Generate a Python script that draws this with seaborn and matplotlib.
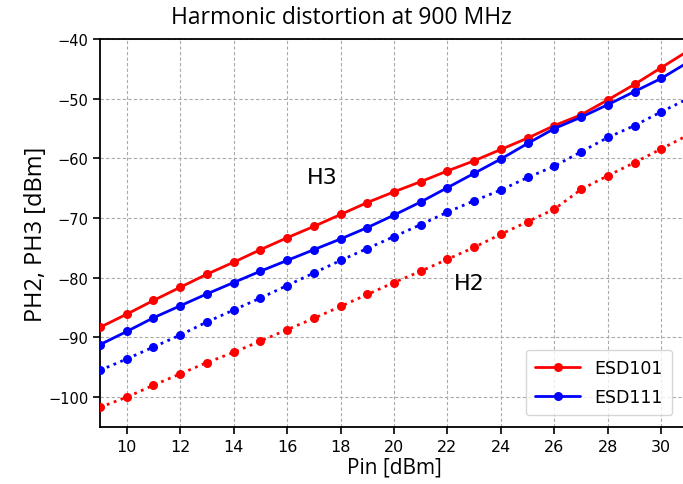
import matplotlib
matplotlib.use("Agg")
import matplotlib.pyplot as plt
import seaborn as sns
import pandas as pd

pin_dbm = list(range(9, 32))

h3_esd101 = [-88.3, -86.1, -83.8, -81.6, -79.4, -77.4, -75.3, -73.3, -71.4, -69.4,
             -67.4, -65.6, -63.9, -62.1, -60.4, -58.5, -56.6, -54.5, -52.7, -50.2,
             -47.6, -44.8, -42.0]
h3_esd111 = [-91.2, -89.0, -86.7, -84.7, -82.7, -80.8, -78.9, -77.1, -75.3, -73.5,
             -71.6, -69.5, -67.3, -64.9, -62.5, -60.1, -57.5, -55.0, -53.1, -51.0,
             -48.8, -46.6, -43.9]
h2_esd111 = [-95.5, -93.6, -91.6, -89.6, -87.4, -85.4, -83.4, -81.3, -79.2, -77.1,
             -75.1, -73.1, -71.1, -69.0, -67.1, -65.3, -63.2, -61.3, -58.9, -56.5,
             -54.5, -52.2, -50.0]
h2_esd101 = [-101.7, -100.0, -98.0, -96.1, -94.2, -92.5, -90.6, -88.7, -86.8, -84.8,
             -82.8, -80.8, -78.9, -76.9, -74.9, -72.7, -70.6, -68.5, -65.2, -62.9,
             -60.7, -58.4, -56.1]

devices = ["ESD101", "ESD111"]
device_colors = {"ESD101": "#ff0000", "ESD111": "#0000ff"}

rows = []
for dev, harm, vals in [("ESD101", "H3", h3_esd101), ("ESD111", "H3", h3_esd111),
                        ("ESD111", "H2", h2_esd111), ("ESD101", "H2", h2_esd101)]:
    for p, v in zip(pin_dbm, vals):
        rows.append({"Pin": p, "P": v, "device": dev, "harmonic": harm})
df = pd.DataFrame(rows)

sns.set_style("ticks")
plt.rcParams["text.color"] = "black"
plt.rcParams["axes.labelcolor"] = "black"

fig = plt.figure(figsize=(6.83, 4.85), dpi=100)
ax = fig.add_axes([100 / 683, 57 / 485, 588 / 683, 388 / 485])

for harm, ls in [("H3", "-"), ("H2", ":")]:
    sub = df[df["harmonic"] == harm]
    sns.lineplot(data=sub, x="Pin", y="P", hue="device", hue_order=devices,
                 palette=device_colors, marker="o", markersize=6.5,
                 markeredgewidth=0, linestyle=ls, linewidth=2.0,
                 legend=(harm == "H3"), ax=ax, zorder=3)

ax.set_xlim(9, 31)
ax.set_ylim(-105, -40)
ax.set_xticks(range(10, 31, 2))
ax.set_yticks(range(-100, -39, 10))
ax.grid(True, linestyle=(0, (3, 2)), color="#aaaaaa", linewidth=0.8)
for s in ax.spines.values():
    s.set_linewidth(1.3)
    s.set_color("black")

ax.tick_params(axis="y", labelsize=10.5, colors="black", length=5, width=1.2)
ax.tick_params(axis="x", labelsize=11.5, colors="black", length=5, width=1.2)
for lab in ax.get_xticklabels():
    lab.set_fontfamily(["Liberation Sans Narrow", "DejaVu Sans"])

ax.set_xlabel("Pin [dBm]", fontsize=15, family="Open Sans", labelpad=2)
ax.set_ylabel("PH2, PH3 [dBm]", fontsize=17, family="Open Sans", labelpad=0)
fig.text(0.5, 0.963, "Harmonic distortion at 900 MHz", ha="center", va="center",
         fontsize=16.5, family="Open Sans")

ax.text(17.3, -63.2, "H3", fontsize=16, ha="center", va="center")
ax.text(22.8, -80.8, "H2", fontsize=16, ha="center", va="center")

leg = ax.legend(loc="lower right", bbox_to_anchor=(0.988, 0.008), fontsize=12.5,
                frameon=True, fancybox=True, handlelength=2.6, borderpad=0.55,
                labelspacing=0.6)
leg.get_frame().set_edgecolor("#cccccc")

fig.savefig("out.png", dpi=100)
